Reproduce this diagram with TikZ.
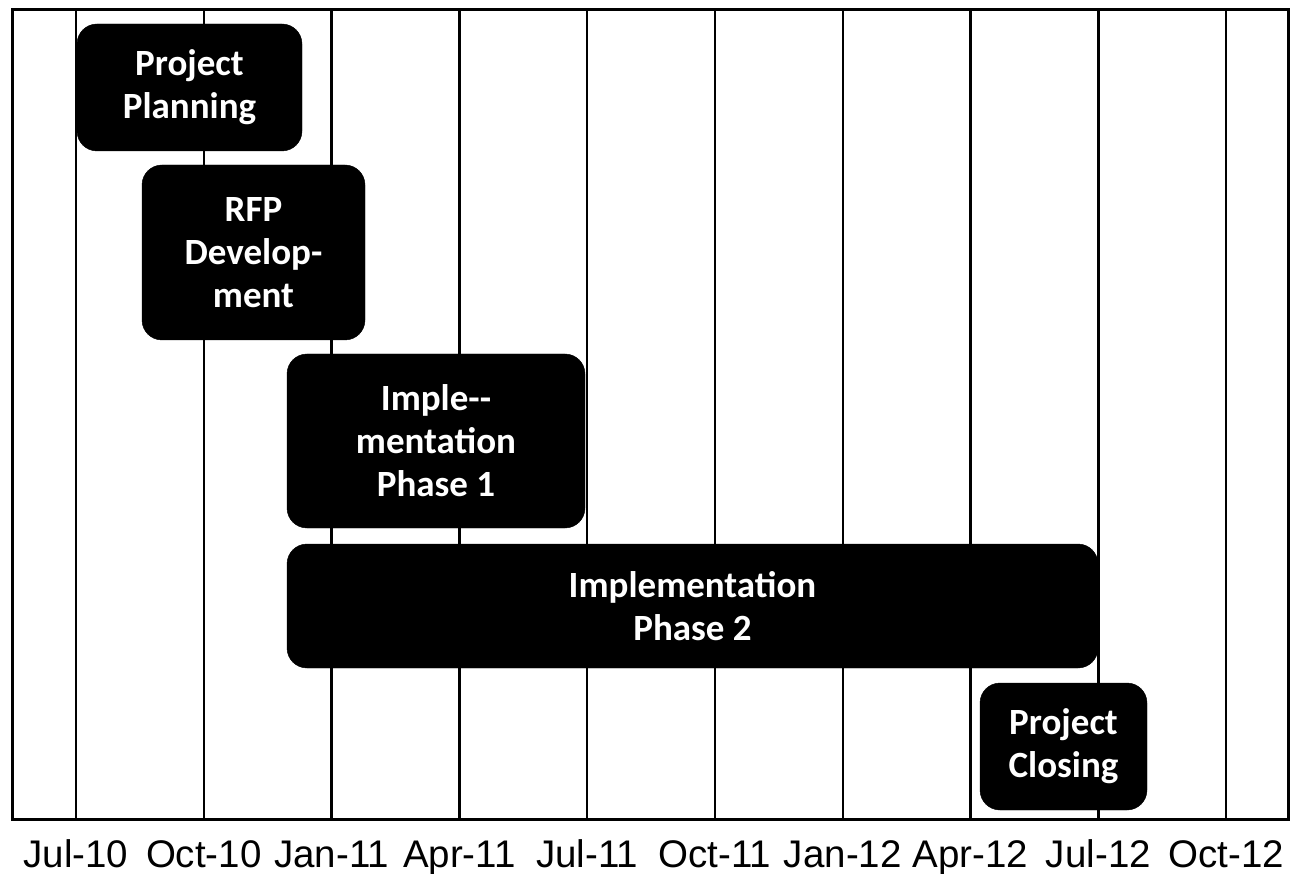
\documentclass[tikz,border=0pt]{standalone}
\usepackage{fontspec}
\setmainfont{Liberation Sans}
\newfontfamily\boxfont{Carlito}
\begin{document}
\begin{tikzpicture}[x=1pt,y=-1pt,
  phase/.style={fill=black, draw=black, rounded corners=20pt, inner sep=0pt,
    text=white, align=center, font=\boxfont\bfseries\fontsize{37}{43}\selectfont},
  gridline/.style={line width=2.4pt, black},
  frameline/.style={line width=3pt, black},
  datelabel/.style={anchor=base, inner sep=0pt, font=\fontsize{38.5}{44}\selectfont}]
\useasboundingbox (0,0) rectangle (1291,874);
% vertical grid lines
\foreach \k in {0,...,9}{
  \draw[gridline] ({76+127.8*\k},10) -- ({76+127.8*\k},819);
}
\draw[frameline] (12,9.5) rectangle (1288,819.5);
% phases
\node[phase, minimum width=225pt, minimum height=127pt] (plan) at (189.5,87.5) {Project\\Planning};
\node[phase, minimum width=223pt, minimum height=175pt] (rfp) at (253.5,252.5) {RFP\\Develop-\\ment};
\node[phase, minimum width=298pt, minimum height=174pt] (imp1) at (436,441) {Imple--\\mentation\\Phase 1};
\node[phase, minimum width=811pt, minimum height=124pt] (imp2) at (692.5,606) {Implementation\\Phase 2};
\node[phase, minimum width=167pt, minimum height=127pt] (close) at (1063.5,746.5) {Project\\Closing};
% date labels
\foreach \lab [count=\i from 0] in {Jul-10,Oct-10,Jan-11,Apr-11,Jul-11,Oct-11,Jan-12,Apr-12,Jul-12,Oct-12}{
  \node[datelabel] (d\i) at ({76+127.8*\i},867) {\lab};
}
\end{tikzpicture}
\end{document}
